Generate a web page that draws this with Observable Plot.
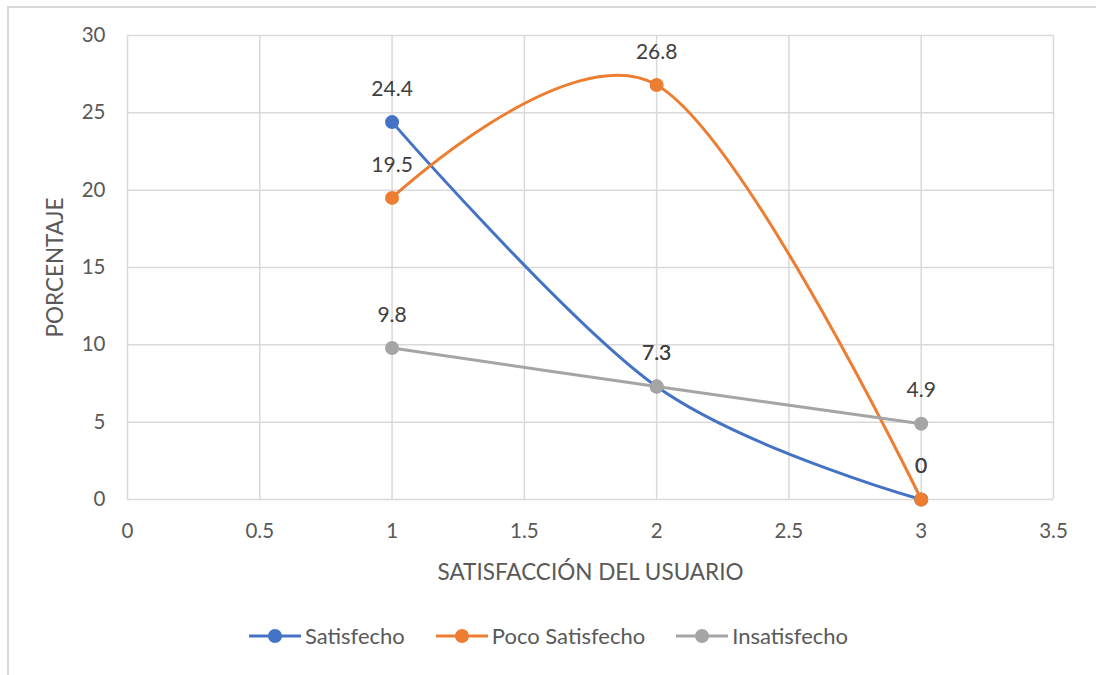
<!DOCTYPE html>
<html><head><meta charset="utf-8">
<script src="https://cdn.jsdelivr.net/npm/d3@7"></script>
<script src="https://cdn.jsdelivr.net/npm/@observablehq/plot@0.6"></script>
<style>
html,body{margin:0;padding:0;background:#fff;}
body{width:1096px;height:675px;overflow:hidden;position:relative;font-family:Lato,"Open Sans",sans-serif;}
#frame{position:absolute;left:7px;top:6px;width:1200px;height:800px;border:2px solid #d9d9d9;box-sizing:border-box;}
#chart{position:absolute;left:0;top:0;}
#legend{position:absolute;left:0;top:622px;width:1096px;display:flex;justify-content:center;gap:30px;font-size:22px;color:#595959;}
#legend .it{display:flex;align-items:center;gap:3px;}
g[aria-label="x-axis label"], g[aria-label="y-axis label"], g[aria-label="x-axis label"] text, g[aria-label="y-axis label"] text{font-size:22.5px;}
g[aria-label="x-axis tick label"], g[aria-label="y-axis tick label"], g[aria-label="x-axis tick label"] text, g[aria-label="y-axis tick label"] text{font-size:20.5px;}
</style></head>
<body>
<div id="frame"></div>
<div id="chart"></div>
<div id="legend"></div>
<script>
const xValues = [1, 2, 3];
const seriesNames = ["Satisfecho", "Poco Satisfecho", "Insatisfecho"];
const satisfecho = [24.4, 7.3, 0];
const pocoSatisfecho = [19.5, 26.8, 0];
const insatisfecho = [9.8, 7.3, 4.9];
const colors = ["#4472c4", "#ed7d31", "#a5a5a5"];
const xTicks = [0, 0.5, 1, 1.5, 2, 2.5, 3, 3.5];
const yTicks = [0, 5, 10, 15, 20, 25, 30];

const seriesValues = [satisfecho, pocoSatisfecho, insatisfecho];
const data = [];
seriesNames.forEach((s, i) => xValues.forEach((x, j) => data.push({series: s, x, y: seriesValues[i][j]})));

const marks = [
  Plot.gridX(xTicks, {stroke: "#d9d9d9", strokeOpacity: 1, strokeWidth: 1.5}),
  Plot.gridY(yTicks, {stroke: "#d9d9d9", strokeOpacity: 1, strokeWidth: 1.5}),
  Plot.axisX(xTicks, {tickSize: 0, tickPadding: 24, fill: "#595959", tickFormat: d => String(d),
    label: "SATISFACCIÓN DEL USUARIO", labelAnchor: "center", labelArrow: "none", labelOffset: 80}),
  Plot.axisY(yTicks, {tickSize: 0, tickPadding: 22, fill: "#595959", tickFormat: d => String(d),
    label: "PORCENTAJE", labelAnchor: "center", labelArrow: "none", labelOffset: 80}),
];
seriesNames.forEach((s, i) => {
  const d = data.filter(r => r.series === s);
  marks.push(Plot.line(d, {x: "x", y: "y", stroke: colors[i], strokeWidth: 3, curve: "cardinal"}));
  marks.push(Plot.dot(d, {x: "x", y: "y", fill: colors[i], r: 7, stroke: "none"}));
});
marks.push(Plot.text(data, {x: "x", y: "y", text: d => String(d.y), dy: -33, fontSize: 21, fill: "#404040"}));

const plot = Plot.plot({
  width: 1096, height: 600,
  marginLeft: 127, marginRight: 43, marginTop: 35, marginBottom: 101,
  x: {domain: [0, 3.5]},
  y: {domain: [0, 30]},
  style: {fontFamily: "Lato, 'Open Sans', sans-serif", fontSize: "20px", background: "transparent", overflow: "visible"},
  marks
});
document.getElementById("chart").appendChild(plot);

const leg = document.getElementById("legend");
seriesNames.forEach((s, i) => {
  const it = document.createElement("div"); it.className = "it";
  it.innerHTML = `<svg width="54" height="16"><line x1="1" y1="8" x2="53" y2="8" stroke="${colors[i]}" stroke-width="3"/><circle cx="27" cy="8" r="7" fill="${colors[i]}"/></svg><span>${s}</span>`;
  leg.appendChild(it);
});
</script>
</body></html>
